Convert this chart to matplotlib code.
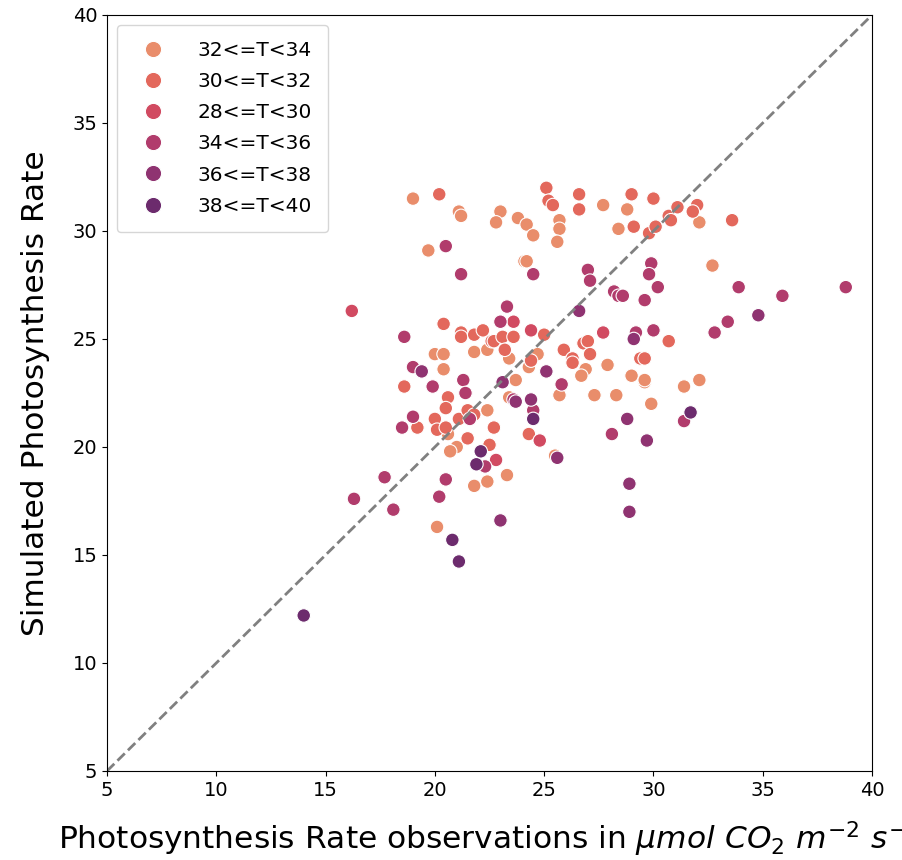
import matplotlib
matplotlib.use("Agg")
import matplotlib.pyplot as plt
import seaborn as sns
import pandas as pd

# temperature classes, in the order seaborn shows them in the legend
classes = ["32<=T<34", "30<=T<32", "28<=T<30", "34<=T<36", "36<=T<38", "38<=T<40"]

# observed / simulated photosynthesis rate per temperature class
obs_a = [19.0, 21.1, 21.2, 23.0, 22.8, 23.8, 24.2, 24.5, 25.7, 25.7, 25.6, 24.1, 24.2, 27.7, 28.8, 28.4,
         32.1, 19.7, 21.8, 22.4, 20.0, 20.4, 20.4, 20.6, 22.4, 21.0, 20.7, 23.4, 24.3, 24.7, 23.7, 25.7,
         23.4, 26.9, 26.7, 27.9, 29.0, 29.6, 29.6, 27.3, 28.3, 29.9, 25.5, 32.7, 31.4, 32.1, 20.1, 21.8,
         22.4, 23.3]
sim_a = [31.5, 30.9, 30.7, 30.9, 30.4, 30.6, 30.3, 29.8, 30.5, 30.1, 29.5, 28.6, 28.6, 31.2, 31.0, 30.1,
         30.4, 29.1, 24.4, 24.5, 24.3, 24.3, 23.6, 20.6, 21.7, 20.0, 19.8, 24.1, 23.7, 24.3, 23.1, 22.4,
         22.3, 23.6, 23.3, 23.8, 23.3, 23.0, 23.1, 22.4, 22.4, 22.0, 19.6, 28.4, 22.8, 23.1, 16.3, 18.2,
         18.4, 18.7]

obs_b = [20.2, 25.1, 25.2, 25.4, 26.6, 26.6, 29.0, 30.0, 29.1, 29.8, 30.1, 30.7, 30.8, 31.1, 32.0, 31.8,
         33.6, 20.4, 21.2, 21.2, 21.8, 22.2, 22.6, 18.6, 20.6, 20.5, 19.2, 20.0, 20.1, 20.5, 21.1, 21.5,
         21.8, 22.7, 21.5, 22.5, 25.0, 22.7, 23.1, 23.6, 23.2, 24.4, 25.9, 26.3, 26.3, 26.8, 27.0, 27.1,
         30.7, 29.4, 29.6, 24.3]
sim_b = [31.7, 32.0, 31.4, 31.2, 31.7, 31.0, 31.7, 31.5, 30.2, 29.9, 30.2, 30.7, 30.5, 31.1, 31.2, 30.9,
         30.5, 25.7, 25.3, 25.1, 25.2, 25.4, 24.9, 22.8, 22.3, 21.8, 20.9, 21.3, 20.8, 20.9, 21.3, 21.7,
         21.5, 20.9, 20.4, 20.1, 25.2, 24.9, 25.1, 25.1, 24.5, 24.0, 24.5, 24.1, 23.9, 24.8, 24.9, 24.3,
         24.9, 24.1, 24.1, 20.6]

obs_c = [16.2, 23.6, 24.4, 27.7, 24.8, 22.8]
sim_c = [26.3, 25.8, 25.4, 25.3, 20.3, 19.4]

obs_d = [20.5, 21.2, 24.5, 27.0, 27.1, 29.9, 29.8, 30.2, 28.2, 28.4, 28.6, 29.6, 23.3, 23.0, 18.6, 19.0,
         19.9, 21.3, 21.4, 19.0, 18.5, 21.6, 22.3, 25.8, 23.6, 24.5, 29.2, 30.0, 28.1, 31.4, 33.9, 35.9,
         38.8, 33.4, 32.8, 17.7, 16.3, 18.1, 20.5, 20.2]
sim_d = [29.3, 28.0, 28.0, 28.2, 27.7, 28.5, 28.0, 27.4, 27.2, 27.0, 27.0, 26.8, 26.5, 25.8, 25.1, 23.7,
         22.8, 23.1, 22.5, 21.4, 20.9, 21.3, 19.1, 22.9, 22.2, 21.7, 25.3, 25.4, 20.6, 21.2, 27.4, 27.0,
         27.4, 25.8, 25.3, 18.6, 17.6, 17.1, 18.5, 17.7]

obs_e = [26.6, 19.4, 25.1, 23.1, 23.7, 29.1, 28.8, 29.7, 25.6, 34.8, 23.0, 28.9, 28.9, 24.4]
sim_e = [26.3, 23.5, 23.5, 23.0, 22.1, 25.0, 21.3, 20.3, 19.5, 26.1, 16.6, 18.3, 17.0, 22.2]

obs_f = [22.1, 21.9, 24.5, 31.7, 20.8, 21.1, 14.0]
sim_f = [19.8, 19.2, 21.3, 21.6, 15.7, 14.7, 12.2]

obs_all = [obs_a, obs_b, obs_c, obs_d, obs_e, obs_f]
sim_all = [sim_a, sim_b, sim_c, sim_d, sim_e, sim_f]

frames = []
for cls, o, s in zip(classes, obs_all, sim_all):
    frames.append(pd.DataFrame({"obs": o, "sim": s, "T": cls}))
df = pd.concat(frames, ignore_index=True)

fig = plt.figure(figsize=(9.02, 8.6), dpi=100)
ax = fig.add_axes([107 / 902, 1 - 771 / 860, 765 / 902, 756 / 860])

sns.scatterplot(data=df, x="obs", y="sim", hue="T", hue_order=classes,
                palette="flare", s=95, edgecolor="white", linewidth=0.8, ax=ax)

ax.plot([5, 40], [5, 40], color="gray", linestyle="--", linewidth=2)

ax.set_xlim(5, 40)
ax.set_ylim(5, 40)
# the x label is wider than the figure in the original too, its right end is cut off
ax.set_xlabel(r"Photosynthesis Rate observations in $\mu mol\ CO_2\ m^{-2}\ s^{-1}$", fontsize=22.5,
              labelpad=14)
ax.set_ylabel("Simulated Photosynthesis Rate", fontsize=22.5, labelpad=16)
ax.tick_params(labelsize=14)
ax.legend(loc="upper left", fontsize=14.5, markerscale=1.2, borderpad=0.8, labelspacing=0.6,
          handletextpad=1.2)

fig.savefig("out.png", dpi=100)
